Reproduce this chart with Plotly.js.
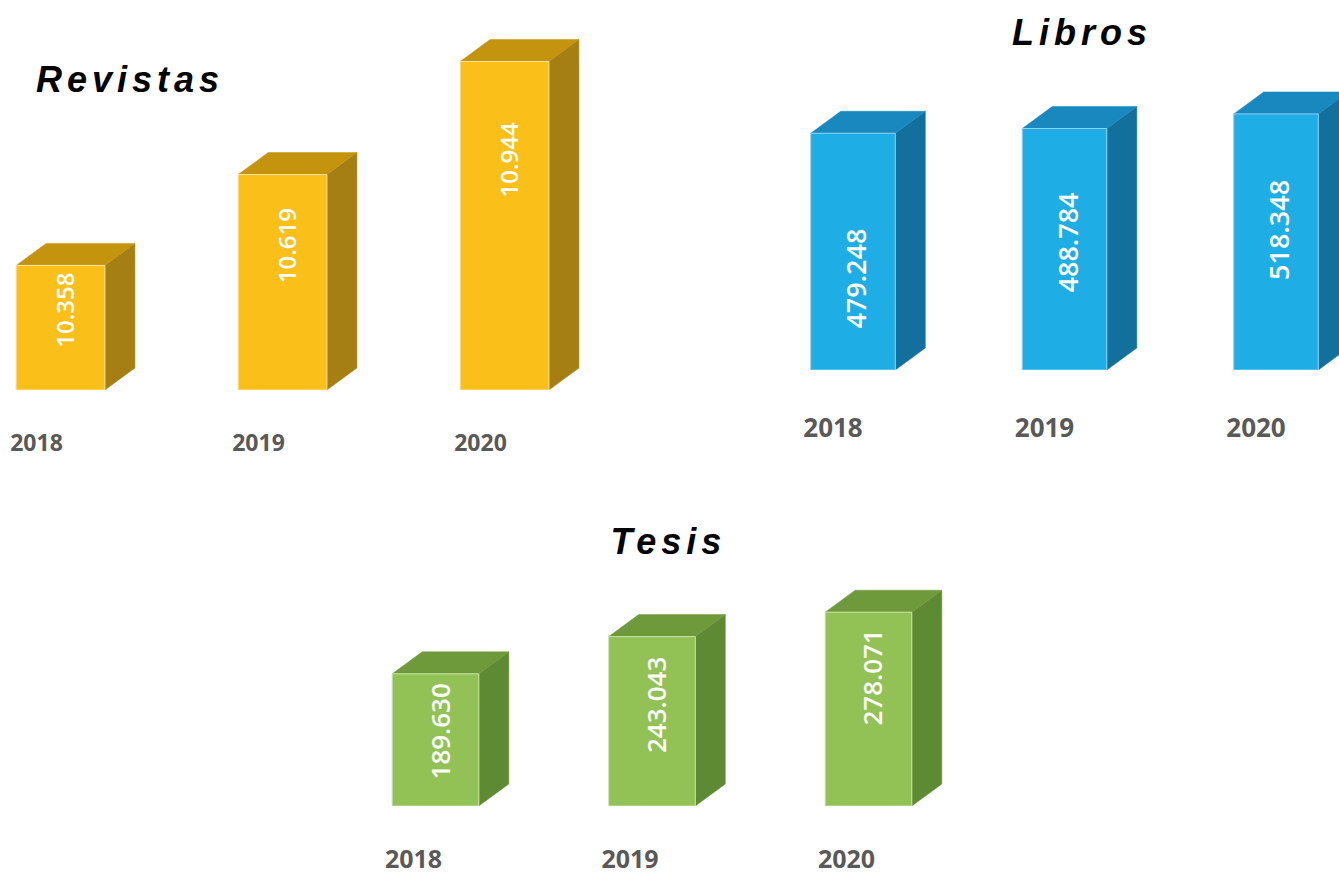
<!DOCTYPE html>
<html>
<head>
<meta charset="utf-8">
<script src="https://cdn.plot.ly/plotly-3.0.1.min.js"></script>
<style>
  html, body { margin: 0; padding: 0; background: #fff; }
  #chart { width: 1339px; height: 875px; }
  .annotation[data-index="0"] text,
  .annotation[data-index="1"] text,
  .annotation[data-index="2"] text { letter-spacing: 5px; }
</style>
</head>
<body>
<div id="chart"></div>
<script>
// ---- data ----
const years = ['2018', '2019', '2020'];
const revistas = [10358, 10619, 10944];
const libros = [479248, 488784, 518348];
const tesis = [189630, 243043, 278071];
const titles = ['Revistas', 'Libros', 'Tesis'];

// ---- layout / style constants ----
const W = 1339, H = 875;
const DEPTH_X = 30, DEPTH_Y = 22, HALF_W = 0.2;

function fmt(v) { return String(v).replace(/\B(?=(\d{3})+(?!\d))/g, '.'); }

const charts = [
  { title: titles[0], vals: revistas, base: 10000, ax: '', dom: { l: 0, r: 660, t: 30, b: 390 },
    c0: 60.5, s: 222, k: 0.348,
    col: { front: '#FBBF1A', top: '#C4940F', side: '#A57E14', edge: '#FFE3A0' },
    frac: [0.64, 0.67, 0.70], valSize: 24, valShift: 4,
    tickSize: 23, tickShift: -24, tickStand: 37,
    titlePos: { x: 130, y: 80 } },
  { title: titles[1], vals: libros, base: 0, ax: '2', dom: { l: 700, r: 1339, t: 60, b: 370 },
    c0: 853, s: 211.5, k: 0.000494,
    col: { front: '#1FADE5', top: '#1888BF', side: '#136F9C', edge: '#8FD4F2' },
    frac: [0.386, 0.526, 0.547], valSize: 27, valShift: 3,
    tickSize: 26, tickShift: -20, tickStand: 40,
    titlePos: { x: 1082, y: 32 } },
  { title: titles[2], vals: tesis, base: 0, ax: '3', dom: { l: 300, r: 1000, t: 560, b: 806 },
    c0: 435.5, s: 216.5, k: 0.000697,
    col: { front: '#92C155', top: '#6F9A3B', side: '#5E8A33', edge: '#C9E3A8' },
    frac: [0.56, 0.596, 0.66], valSize: 26, valShift: 4,
    tickSize: 25, tickShift: -22, tickStand: 36,
    titlePos: { x: 668, y: 541 } }
];

const traces = [];
const layout = {
  width: W, height: H,
  margin: { l: 0, r: 0, t: 0, b: 0 },
  paper_bgcolor: '#fff', plot_bgcolor: 'rgba(0,0,0,0)',
  showlegend: false,
  annotations: [],
  hovermode: false
};

// titles first (indices 0..2 get letter-spacing)
charts.forEach(c => {
  layout.annotations.push({
    xref: 'paper', yref: 'paper',
    x: c.titlePos.x / W, y: 1 - c.titlePos.y / H,
    xanchor: 'center', yanchor: 'middle',
    text: c.title, showarrow: false,
    font: { family: 'Liberation Sans, Arial, sans-serif', size: 36, weight: 'bold', style: 'italic', color: '#000' }
  });
});

charts.forEach(c => {
  const xa = 'x' + c.ax, ya = 'y' + c.ax;
  const xr = [(c.dom.l - c.c0) / c.s, (c.dom.r - c.c0) / c.s];
  const yr = [c.base, c.base + (c.dom.b - c.dom.t) / c.k];
  const dxu = DEPTH_X / c.s, dyu = DEPTH_Y / c.k;

  c.vals.forEach((v, i) => {
    const xl = i - HALF_W, xrt = i + HALF_W, b = c.base;
    // side face
    traces.push({
      type: 'scatter', mode: 'lines', xaxis: xa, yaxis: ya, fill: 'toself',
      x: [xrt, xrt + dxu, xrt + dxu, xrt, xrt],
      y: [b, b + dyu, v + dyu, v, b],
      fillcolor: c.col.side, line: { color: c.col.side, width: 0.5 }, hoverinfo: 'skip'
    });
    // top face
    traces.push({
      type: 'scatter', mode: 'lines', xaxis: xa, yaxis: ya, fill: 'toself',
      x: [xl, xrt, xrt + dxu, xl + dxu, xl],
      y: [v, v, v + dyu, v + dyu, v],
      fillcolor: c.col.top, line: { color: c.col.top, width: 0.5 }, hoverinfo: 'skip'
    });
    // front face
    traces.push({
      type: 'scatter', mode: 'lines', xaxis: xa, yaxis: ya, fill: 'toself',
      x: [xl, xrt, xrt, xl, xl],
      y: [b, b, v, v, b],
      fillcolor: c.col.front, line: { color: c.col.edge, width: 1 }, hoverinfo: 'skip'
    });
    // value label
    layout.annotations.push({
      xref: xa, yref: ya, x: i, y: b + (v - b) * c.frac[i],
      xanchor: 'center', yanchor: 'middle', xshift: c.valShift,
      text: fmt(v), showarrow: false, textangle: -90,
      font: { family: 'Open Sans, sans-serif', size: c.valSize, weight: 600, color: '#fff' }
    });
  });

  const xKey = 'xaxis' + c.ax, yKey = 'yaxis' + c.ax;
  layout[xKey] = {
    domain: [c.dom.l / W, c.dom.r / W], anchor: ya, range: xr,
    tickvals: [0, 1, 2], ticktext: years, ticks: '',
    showgrid: false, zeroline: false, showline: false, fixedrange: true,
    ticklabelshift: c.tickShift, ticklabelstandoff: c.tickStand,
    tickfont: { family: 'Open Sans, sans-serif', size: c.tickSize, weight: 'bold', color: '#595959' }
  };
  layout[yKey] = {
    domain: [1 - c.dom.b / H, 1 - c.dom.t / H], anchor: xa, range: yr,
    visible: false, showgrid: false, zeroline: false, fixedrange: true
  };
});

Plotly.newPlot('chart', traces, layout, { displayModeBar: false, staticPlot: true });
</script>
</body>
</html>
